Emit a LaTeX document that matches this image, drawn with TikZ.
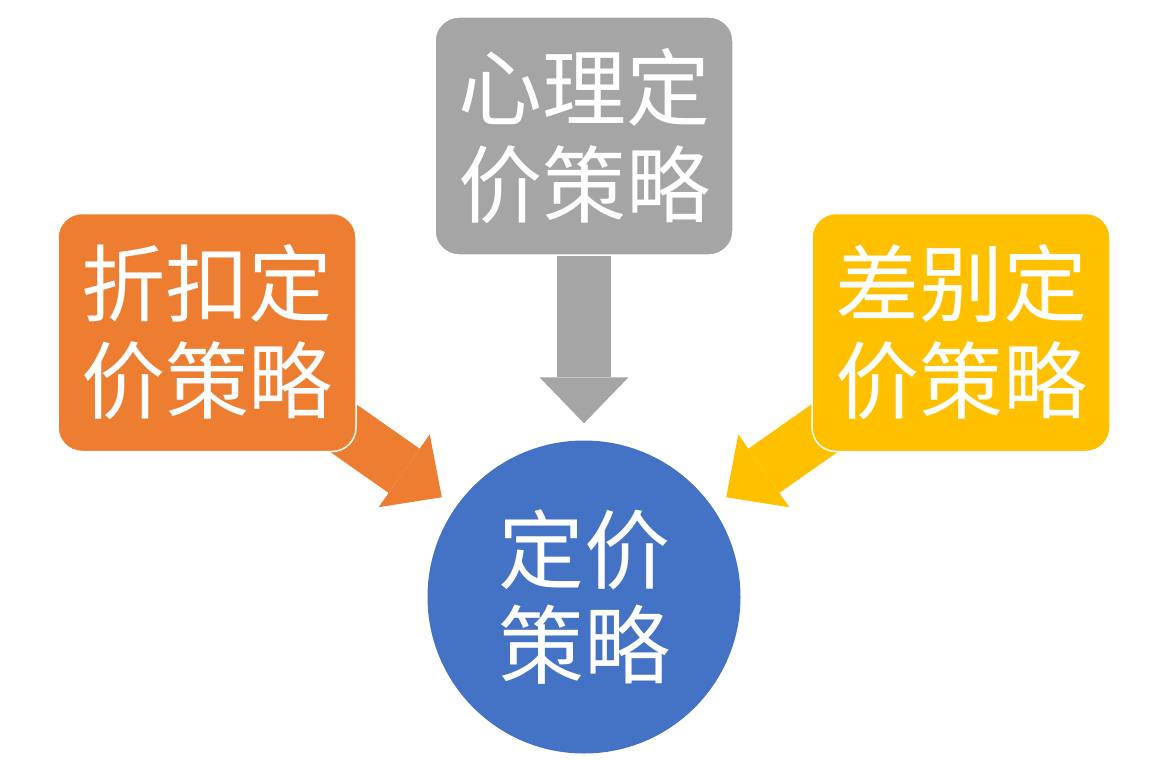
\documentclass[tikz,border=0pt]{standalone}
\usepackage{fontspec}
\newfontfamily\cjk{Noto Sans CJK SC}
\usepackage{xcolor}
\usetikzlibrary{arrows.meta, backgrounds}
\definecolor{discorange}{HTML}{ED7D31}
\definecolor{psygray}{HTML}{A5A5A5}
\definecolor{diffyellow}{HTML}{FFC000}
\definecolor{priceblue}{HTML}{4472C4}

\begin{document}
\begin{tikzpicture}[x=1pt,y=-1pt,
    box/.style={rectangle, rounded corners=24pt, draw=white, line width=1.5pt, minimum width=298pt, minimum height=238pt, inner sep=0pt, text=white, align=center, font=\cjk\fontsize{84}{97}\selectfont},
    hub/.style={circle, fill=priceblue, minimum size=313pt, inner sep=0pt, text=white, align=center, font=\cjk\fontsize{86}{95}\selectfont},
    fat/.style={line width=54pt, -{Triangle[width=89pt,length=46pt,line width=0pt]}, shorten >=17pt}]
    \useasboundingbox (0,0) rectangle (1168,760);

    \node[hub] (price) at (584,597) {定价\\策略};
    \node[box, fill=psygray] (psy) at (584,136) {心理定\\价策略};
    \node[box, fill=discorange] (disc) at (207,332.5) {折扣定\\价策略};
    \node[box, fill=diffyellow] (diff) at (961,332.5) {差别定\\价策略};

    \begin{pgfonlayer}{background}
        \draw[fat, psygray] (psy.center) -- (price);
        \draw[fat, discorange] (disc.center) -- (price);
        \draw[fat, diffyellow] (diff.center) -- (price);
    \end{pgfonlayer}
\end{tikzpicture}
\end{document}
